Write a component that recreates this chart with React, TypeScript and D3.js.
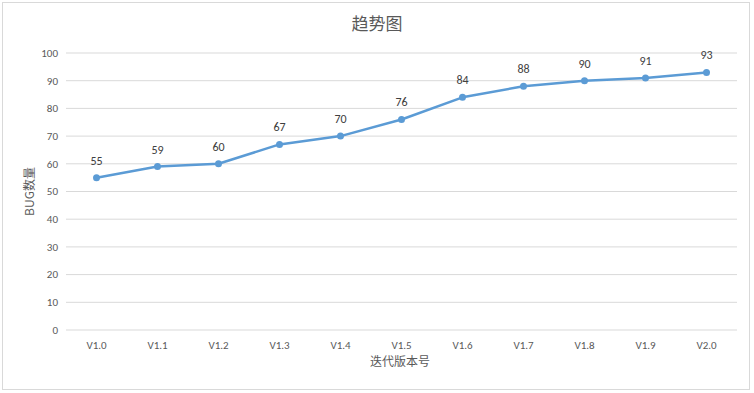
import React from 'react';
import * as d3 from 'd3';

const versions = ['V1.0', 'V1.1', 'V1.2', 'V1.3', 'V1.4', 'V1.5', 'V1.6', 'V1.7', 'V1.8', 'V1.9', 'V2.0'];
const bugCounts = [55, 59, 60, 67, 70, 76, 84, 88, 90, 91, 93];
const yTicks = [0, 10, 20, 30, 40, 50, 60, 70, 80, 90, 100];

const W = 754;
const H = 393;
const numFont = 'Carlito, "Liberation Sans", Arial, sans-serif';
const cjkFont = '"Noto Sans CJK SC", "Microsoft YaHei", sans-serif';

export default function App() {
    const x = d3.scaleBand().domain(versions).range([66, 737]);
    const y = d3.scaleLinear().domain([0, 100]).range([330, 53]);
    const cx = (v: string) => (x(v) as number) + x.bandwidth() / 2;

    const line = d3.line<number>()
        .x((_, i) => cx(versions[i]))
        .y(d => y(d));

    return (
        <svg width={W} height={H} style={{ position: 'absolute', left: 0, top: 0, background: '#fff' }}>
            {/* chart frame */}
            <rect x={2.5} y={2.5} width={747} height={387} fill="#fff" stroke="#d9d9d9" />

            <text x={W / 2} y={30} textAnchor="middle" fontSize={17} fill="#595959" fontFamily={cjkFont}>趋势图</text>

            {/* gridlines and y ticks */}
            {yTicks.map(t => (
                <g key={t}>
                    <line x1={66} x2={737} y1={y(t)} y2={y(t)} stroke="#d9d9d9" strokeWidth={1} />
                    <text x={58} y={y(t)} dy="0.35em" textAnchor="end" fontSize={11} fill="#595959" fontFamily={numFont}>{t}</text>
                </g>
            ))}

            {/* x labels */}
            {versions.map(v => (
                <text key={v} x={cx(v)} y={349} textAnchor="middle" fontSize={11} fill="#595959" fontFamily={numFont}>{v}</text>
            ))}

            <text x={400} y={366} textAnchor="middle" fontSize={12} fill="#595959" fontFamily={cjkFont}>迭代版本号</text>
            <text transform={`translate(34, ${y(50)}) rotate(-90)`} textAnchor="middle" fontSize={12} fill="#595959" fontFamily={cjkFont}>BUG数量</text>

            <path d={line(bugCounts) || ''} fill="none" stroke="#5b9bd5" strokeWidth={2.5} strokeLinejoin="round" strokeLinecap="round" />
            {bugCounts.map((d, i) => (
                <g key={versions[i]}>
                    <circle cx={cx(versions[i])} cy={y(d)} r={3.5} fill="#5b9bd5" />
                    <text x={cx(versions[i])} y={y(d) - 13} textAnchor="middle" fontSize={12} fill="#404040" fontFamily={numFont}>{d}</text>
                </g>
            ))}
        </svg>
    );
}
